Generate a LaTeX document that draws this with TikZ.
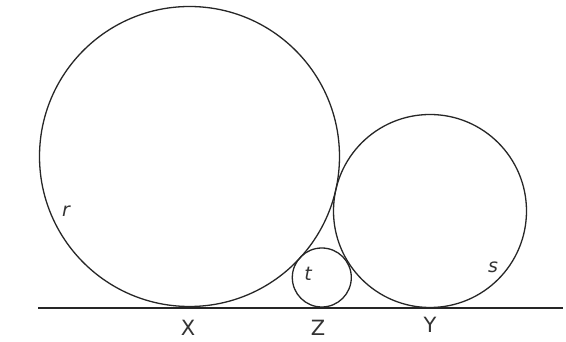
\documentclass[tikz,border=0pt]{standalone}
\usepackage{fontspec}
\setsansfont{DejaVu Sans}
\begin{document}
\begin{tikzpicture}[x=1pt,y=-1pt,
  circ/.style={draw=black!85,line width=1.3pt},
  lbl/.style={font=\sffamily\fontsize{19}{19}\selectfont\itshape,text=black!80,inner sep=0pt},
  caplbl/.style={font=\sffamily\fontsize{21}{21}\selectfont,text=black!80,inner sep=0pt}]
\useasboundingbox[fill=white] (0,0) rectangle (566,342);
\draw[circ] (189.5,156.5) circle (150);
\draw[circ] (430,211) circle (96.5);
\draw[circ] (321.8,277.5) circle (29.5);
\coordinate (L) at (38,308);
\coordinate (R) at (563,308);
\draw[circ] (L) -- (R);
\node[lbl] (r) at (66,211) {r};
\node[lbl] (t) at (308,274) {t};
\node[lbl] (s) at (493,267) {s};
\node[caplbl] (X) at (188,328) {X};
\node[caplbl] (Z) at (318,328) {Z};
\node[caplbl] (Y) at (430,325) {Y};
\end{tikzpicture}
\end{document}
